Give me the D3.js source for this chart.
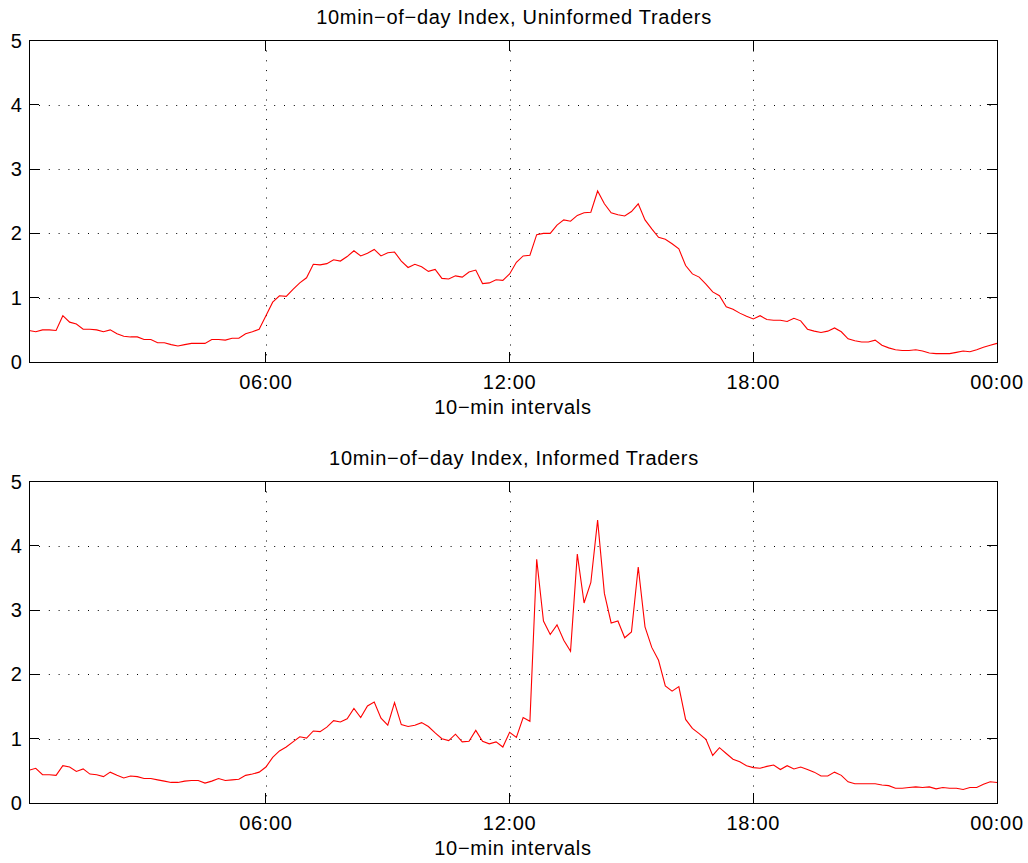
<!DOCTYPE html>
<html>
  <head>
    <title>10min-of-day Index</title>
    <script src="https://d3js.org/d3.v7.min.js"></script>
    <style>
      body { margin: 0; background: #fff; }
      svg { display: block; }
      text {
        font-family: "Liberation Sans", Arial, Helvetica, sans-serif;
        font-size: 20px;
        letter-spacing: 0.7px;
        fill: #000;
      }
      .grid line {
        stroke: #000;
        stroke-width: 1;
        stroke-dasharray: 1 8.8;
      }
      .frame, .tick-mark {
        stroke: #000;
        stroke-width: 1;
        fill: none;
        shape-rendering: crispEdges;
      }
      .series {
        stroke: #ff0000;
        stroke-width: 1.1;
        fill: none;
      }
    </style>
  </head>
  <body>
    <svg width="1028" height="863"></svg>

    <script>
      // 10-min interval index, 1..144 (00:10 .. 24:00)
      const uninformed = [
        0.49,0.47,0.50,0.50,0.49,0.72,0.62,0.59,0.51,0.51,0.50,0.47,0.50,0.44,0.40,0.39,0.39,0.35,
        0.35,0.30,0.30,0.27,0.25,0.27,0.29,0.29,0.29,0.35,0.35,0.34,0.37,0.37,0.44,0.47,0.51,0.72,
        0.93,1.03,1.02,1.13,1.23,1.31,1.52,1.51,1.53,1.59,1.57,1.64,1.73,1.65,1.69,1.75,1.65,1.70,
        1.71,1.57,1.47,1.52,1.48,1.41,1.44,1.30,1.29,1.34,1.32,1.40,1.43,1.22,1.23,1.28,1.27,1.37,
        1.55,1.65,1.66,1.98,2.00,2.00,2.13,2.21,2.19,2.28,2.32,2.33,2.66,2.46,2.32,2.29,2.27,2.34,
        2.46,2.21,2.07,1.94,1.91,1.84,1.76,1.50,1.37,1.32,1.21,1.09,1.03,0.86,0.82,0.76,0.71,0.67,
        0.72,0.66,0.65,0.65,0.63,0.68,0.64,0.51,0.48,0.46,0.48,0.53,0.47,0.36,0.33,0.31,0.31,0.34,
        0.26,0.22,0.19,0.18,0.18,0.19,0.17,0.14,0.13,0.13,0.13,0.15,0.17,0.16,0.19,0.23,0.26,0.29
      ];

      const informed = [
        0.51,0.54,0.44,0.44,0.43,0.58,0.56,0.49,0.53,0.45,0.44,0.41,0.48,0.43,0.39,0.42,0.41,0.38,
        0.38,0.36,0.34,0.32,0.32,0.34,0.35,0.35,0.31,0.34,0.38,0.35,0.36,0.37,0.43,0.45,0.48,0.56,
        0.71,0.81,0.87,0.95,1.03,1.01,1.12,1.11,1.18,1.28,1.26,1.31,1.47,1.33,1.51,1.57,1.32,1.21,
        1.56,1.22,1.19,1.21,1.25,1.19,1.09,1.00,0.97,1.07,0.95,0.96,1.13,0.96,0.92,0.95,0.87,1.10,
        1.02,1.33,1.27,3.79,2.83,2.62,2.77,2.53,2.36,3.87,3.11,3.43,4.40,3.26,2.80,2.83,2.57,2.66,
        3.67,2.74,2.42,2.22,1.82,1.74,1.81,1.30,1.16,1.08,0.99,0.74,0.86,0.77,0.68,0.64,0.58,0.55,
        0.54,0.57,0.59,0.52,0.58,0.53,0.56,0.52,0.48,0.42,0.42,0.48,0.43,0.33,0.30,0.30,0.30,0.30,
        0.28,0.27,0.23,0.23,0.24,0.25,0.24,0.25,0.22,0.24,0.23,0.23,0.21,0.24,0.24,0.29,0.33,0.32
      ];

      const xTickValues = [36, 72, 108, 144];
      const xTickLabels = ["06:00", "12:00", "18:00", "00:00"];
      const yTickValues = [0, 1, 2, 3, 4, 5];

      const titles = [
        "10min\u2212of\u2212day Index, Uninformed Traders",
        "10min\u2212of\u2212day Index, Informed Traders"
      ];
      const xLabel = "10\u2212min intervals";

      function panel(svg, props) {
        const { top, values, title } = props;
        const left = 29, right = 997, height = 321.5;
        const tickLen = 10;

        const x = d3.scaleLinear().domain([1, 144]).range([left, right]);
        const y = d3.scaleLinear().domain([0, 5]).range([top + height, top]);

        const g = svg.append("g");

        // grid
        const grid = g.append("g").attr("class", "grid");
        grid.selectAll(".gx").data(xTickValues.filter(d => d < 144))
          .enter().append("line")
            .attr("x1", d => Math.round(x(d)) + 0.5).attr("x2", d => Math.round(x(d)) + 0.5)
            .attr("y1", y(5) + tickLen).attr("y2", y(0));
        grid.selectAll(".gy").data(yTickValues.filter(d => d > 0 && d < 5))
          .enter().append("line")
            .attr("x1", x(1) + tickLen).attr("x2", x(144))
            .attr("y1", d => Math.round(y(d)) + 0.5).attr("y2", d => Math.round(y(d)) + 0.5);

        // series
        const line = d3.line()
          .x((d, i) => x(i + 1))
          .y(d => y(d));
        g.append("path")
          .datum(values)
          .attr("class", "series")
          .attr("d", line);

        // frame
        g.append("rect")
          .attr("class", "frame")
          .attr("x", x(1)).attr("y", y(5))
          .attr("width", x(144) - x(1)).attr("height", y(0) - y(5));

        // inward ticks
        const ticks = g.append("g");
        xTickValues.forEach(v => {
          ticks.append("line").attr("class", "tick-mark")
            .attr("x1", x(v)).attr("x2", x(v)).attr("y1", y(0)).attr("y2", y(0) - tickLen);
          ticks.append("line").attr("class", "tick-mark")
            .attr("x1", x(v)).attr("x2", x(v)).attr("y1", y(5)).attr("y2", y(5) + tickLen);
        });
        yTickValues.forEach(v => {
          ticks.append("line").attr("class", "tick-mark")
            .attr("x1", x(1)).attr("x2", x(1) + tickLen).attr("y1", y(v)).attr("y2", y(v));
          ticks.append("line").attr("class", "tick-mark")
            .attr("x1", x(144)).attr("x2", x(144) - tickLen).attr("y1", y(v)).attr("y2", y(v));
        });

        // tick labels
        g.selectAll(".ylab").data(yTickValues).enter().append("text")
          .attr("x", x(1) - 6.5)
          .attr("y", d => y(d))
          .attr("dy", "0.35em")
          .attr("text-anchor", "end")
          .text(d => d);

        g.selectAll(".xlab").data(xTickValues).enter().append("text")
          .attr("x", d => x(d))
          .attr("y", y(0) + 27)
          .attr("text-anchor", "middle")
          .text((d, i) => xTickLabels[i]);

        g.append("text")
          .attr("x", (left + right) / 2)
          .attr("y", y(0) + 51.5)
          .attr("text-anchor", "middle")
          .text(xLabel);

        g.append("text")
          .attr("x", (left + right) / 2 + 1)
          .attr("y", top - 17)
          .attr("text-anchor", "middle")
          .text(title);
      }

      function main() {
        const svg = d3.select("svg");
        svg.append("rect").attr("width", 1028).attr("height", 863).attr("fill", "#fff");
        panel(svg, { top: 40.5, values: uninformed, title: titles[0] });
        panel(svg, { top: 481.5, values: informed, title: titles[1] });
      }
      main();
    </script>
  </body>
</html>
